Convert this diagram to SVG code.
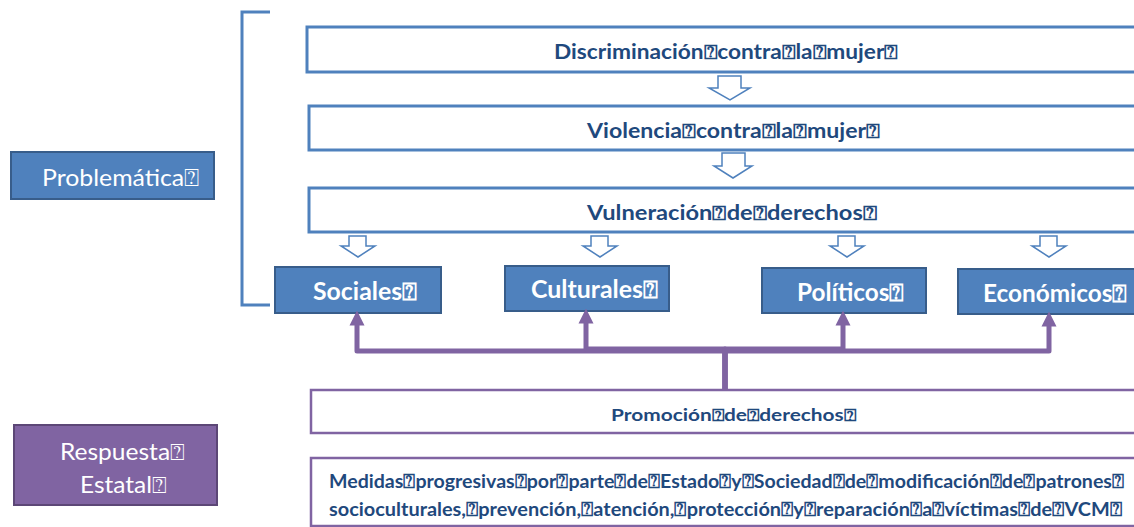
<svg xmlns="http://www.w3.org/2000/svg" width="1134" height="527" viewBox="0 0 1134 527">
<defs>
<style>
.wb{fill:#fff;stroke:#4f81bd;stroke-width:3}
.wp{fill:#fff;stroke:#8064a2;stroke-width:2.5}
.bb{fill:#4f81bd;stroke:#385d8a;stroke-width:2}
.pb{fill:#8064a2;stroke:#5c4776;stroke-width:2}
.ha{fill:#fff;stroke:#4f81bd;stroke-width:1.5}
.t{font-family:Lato,"Liberation Sans",sans-serif;font-weight:bold;fill:#1f497d}
.tw{font-family:Lato,"Liberation Sans",sans-serif;fill:#fff}
.con{fill:none;stroke:#8064a2;stroke-width:5;stroke-linejoin:round}
</style>
<marker id="ah" viewBox="0 0 10 10" refX="5" refY="5" markerWidth="3" markerHeight="3.4" orient="auto">
<path d="M0,0 L10,5 L0,10 Z" fill="#8064a2"/>
</marker>
</defs>
<g id="bracket"><path d="M270,12 H242 V305 H270" fill="none" stroke="#4f81bd" stroke-width="3"/></g>
<g id="problematica"><rect class="bb" x="11" y="152" width="203" height="47"/><text class="tw" x="42" y="186" font-size="23.5" textLength="157" lengthAdjust="spacingAndGlyphs">Problemática⍰</text></g>
<g id="discriminacion"><rect class="wb" x="307" y="27" width="840" height="45"/><text class="t" x="554" y="59" font-size="20" textLength="344" lengthAdjust="spacingAndGlyphs">Discriminación⍰contra⍰la⍰mujer⍰</text></g>
<g id="violencia"><rect class="wb" x="309" y="106" width="840" height="44"/><text class="t" x="587" y="138" font-size="20" textLength="293" lengthAdjust="spacingAndGlyphs">Violencia⍰contra⍰la⍰mujer⍰</text></g>
<g id="vulneracion"><rect class="wb" x="309" y="188" width="840" height="44"/><text class="t" x="587" y="220" font-size="20" textLength="290" lengthAdjust="spacingAndGlyphs">Vulneración⍰de⍰derechos⍰</text></g>
<g id="arrows">
<path class="ha" d="M718,76 H741 V88 H750 L730,100 L709,88 H718 Z"/>
<path class="ha" d="M722,153 H745 V166 H752 L733,178 L714,166 H722 Z"/>
<path class="ha" d="M349,236 H366 V246 H375 L358,257 L341,246 H349 Z"/>
<path class="ha" d="M591,236 H608 V246 H617 L600,257 L583,246 H591 Z"/>
<path class="ha" d="M838,236 H855 V246 H864 L847,257 L830,246 H838 Z"/>
<path class="ha" d="M1040,236 H1057 V246 H1066 L1049,257 L1032,246 H1040 Z"/>
</g>
<g id="sociales"><rect class="bb" x="275" y="267" width="166" height="46"/><text class="tw" x="313" y="300" font-size="25" font-weight="bold" textLength="104" lengthAdjust="spacingAndGlyphs">Sociales⍰</text></g>
<g id="culturales"><rect class="bb" x="505" y="266" width="164" height="45"/><text class="tw" x="531" y="298" font-size="25" font-weight="bold" textLength="127" lengthAdjust="spacingAndGlyphs">Culturales⍰</text></g>
<g id="politicos"><rect class="bb" x="762" y="268" width="164" height="45"/><text class="tw" x="797" y="301" font-size="25" font-weight="bold" textLength="107" lengthAdjust="spacingAndGlyphs">Políticos⍰</text></g>
<g id="economicos"><rect class="bb" x="958" y="269" width="190" height="45"/><text class="tw" x="983" y="302" font-size="25" font-weight="bold" textLength="144" lengthAdjust="spacingAndGlyphs">Económicos⍰</text></g>
<g id="connectors">
<path class="con" d="M725,390 V351 H357 V318" marker-end="url(#ah)"/>
<path class="con" d="M725,390 V349 H586 V316" marker-end="url(#ah)"/>
<path class="con" d="M725,390 V349 H843 V318" marker-end="url(#ah)"/>
<path class="con" d="M725,390 V351 H1049 V319" marker-end="url(#ah)"/>
</g>
<g id="promocion"><rect class="wp" x="311" y="390" width="840" height="43"/><text class="t" x="611" y="421" font-size="17" textLength="245" lengthAdjust="spacingAndGlyphs">Promoción⍰de⍰derechos⍰</text></g>
<g id="respuesta"><rect class="pb" x="14" y="425" width="203" height="80"/><text class="tw" x="60" y="460" font-size="23" textLength="125" lengthAdjust="spacingAndGlyphs">Respuesta⍰</text><text class="tw" x="80" y="493" font-size="23" textLength="87" lengthAdjust="spacingAndGlyphs">Estatal⍰</text></g>
<g id="medidas"><rect class="wp" x="311" y="458" width="840" height="68"/><text class="t" x="329" y="488" font-size="19.5" textLength="795" lengthAdjust="spacingAndGlyphs">Medidas⍰progresivas⍰por⍰parte⍰de⍰Estado⍰y⍰Sociedad⍰de⍰modificación⍰de⍰patrones⍰</text><text class="t" x="329" y="516" font-size="19.5" textLength="793" lengthAdjust="spacingAndGlyphs">socioculturales,⍰prevención,⍰atención,⍰protección⍰y⍰reparación⍰a⍰víctimas⍰de⍰VCM⍰</text></g>
</svg>
